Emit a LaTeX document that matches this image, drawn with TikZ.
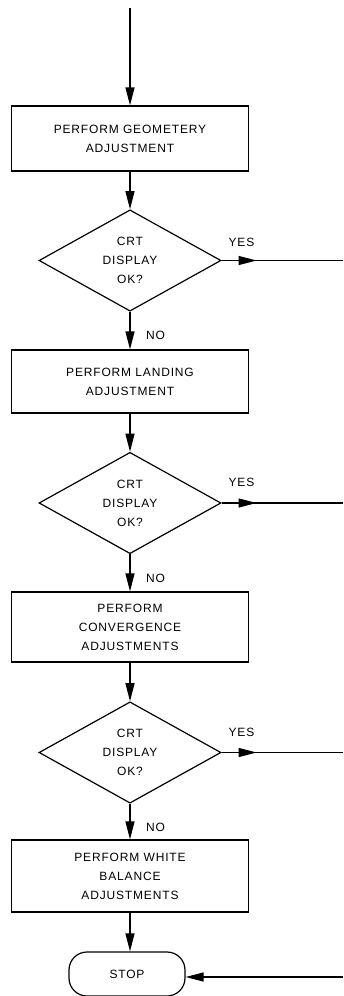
\documentclass[tikz,border=0pt]{standalone}
\usepackage{fontspec}
\setmainfont{Liberation Sans}[LetterSpace=7]
\usetikzlibrary{shapes.geometric,arrows.meta}
\begin{document}
\begin{tikzpicture}[x=1pt,y=-1pt,
  txt/.style={font=\fontsize{12}{19}\selectfont, align=center},
  box/.style={txt, draw, line width=1.2pt, minimum width=237pt, inner sep=0pt},
  dec/.style={txt, draw, diamond, line width=1.2pt, minimum width=182pt, minimum height=97pt, inner sep=0pt},
  term/.style={txt, draw, line width=1.2pt, rounded corners=18pt, minimum width=116pt, minimum height=44pt, inner sep=0pt},
  lnk/.style={line width=1.2pt},
  arr/.style={lnk, -{Triangle[length=18pt,width=9pt]}},
  lbl/.style={font=\fontsize{12}{13}\selectfont, inner sep=0pt}]
\useasboundingbox (0,0) rectangle (343,996);
\coordinate (start) at (130,8);
\node[box, minimum height=65pt] (b1) at (130,138.5) {PERFORM GEOMETERY\\ADJUSTMENT};
\node[dec] (d1) at (130,260.5) {CRT\\DISPLAY\\OK?};
\node[box, minimum height=63pt] (b2) at (130,381.5) {PERFORM LANDING\\ADJUSTMENT};
\node[dec] (d2) at (130,503) {CRT\\DISPLAY\\OK?};
\node[box, minimum height=70pt] (b3) at (130,627) {PERFORM\\CONVERGENCE\\ADJUSTMENTS};
\node[dec] (d3) at (130,752.5) {CRT\\DISPLAY\\OK?};
\node[box, minimum height=72pt] (b4) at (130,876) {PERFORM WHITE\\BALANCE\\ADJUSTMENTS};
\node[term] (stop) at (127,974) {STOP};
\coordinate (y1) at (343,260.5);
\coordinate (y2) at (343,503);
\coordinate (y3) at (343,752.5);
\coordinate (y4) at (343,977);
\draw[arr] (start) -- (b1.north);
\draw[arr] (b1.south) -- (d1.north);
\draw[arr] (d1.south) -- (b2.north);
\draw[arr] (b2.south) -- (d2.north);
\draw[arr] (d2.south) -- (b3.north);
\draw[arr] (b3.south) -- (d3.north);
\draw[arr] (d3.south) -- (b4.north);
\draw[arr] (b4.south) -- (b4.south |- stop.north);
\draw[lnk] (d1.east) -- (y1);
\draw[arr] (d1.east) -- ++(35,0);
\draw[lnk] (d2.east) -- (y2);
\draw[arr] (d2.east) -- ++(35,0);
\draw[lnk] (d3.east) -- (y3);
\draw[arr] (d3.east) -- ++(35,0);
\draw[arr] (y4) -- (stop.east |- y4);
\node[lbl] (yes1) at (241.5,242) {YES};
\node[lbl] (yes2) at (241.5,482) {YES};
\node[lbl] (yes3) at (241.5,732) {YES};
\node[lbl] (no1) at (155.5,335) {NO};
\node[lbl] (no2) at (155.5,578) {NO};
\node[lbl] (no3) at (155.5,827) {NO};
\end{tikzpicture}
\end{document}
